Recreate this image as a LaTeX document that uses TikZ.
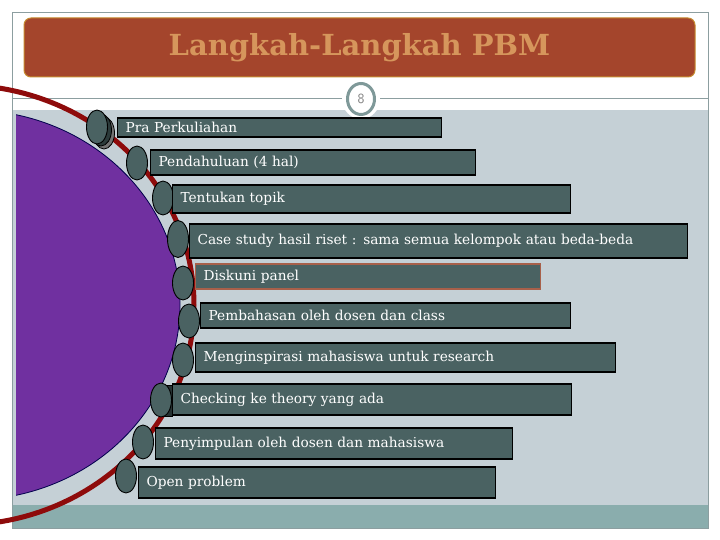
\documentclass[tikz,border=0pt]{standalone}
\usepackage{fontspec}
\setmainfont{DejaVu Serif}
\usetikzlibrary{shapes.geometric}

\definecolor{brick}{HTML}{A4452C}
\definecolor{titletext}{HTML}{D6965C}
\definecolor{titleedge}{HTML}{C58A2E}
\definecolor{panelgrey}{HTML}{C5D0D6}
\definecolor{stripteal}{HTML}{8AADAD}
\definecolor{framegrey}{HTML}{8C9EA0}
\definecolor{slate}{HTML}{4A6262}
\definecolor{plum}{HTML}{7030A0}
\definecolor{maroon}{HTML}{8E0B0B}
\definecolor{ringgrey}{HTML}{7F9999}
\definecolor{diskedge}{HTML}{A8604A}

\begin{document}
\begin{tikzpicture}[x=1pt,y=-1pt,
	titlebox/.style={rectangle, rounded corners=7pt, fill=brick, draw=titleedge, line width=1pt,
		text=titletext, font=\fontsize{29}{32}\selectfont\bfseries},
	barbox/.style={draw=black, line width=1.1pt, fill=slate, text=white, anchor=west,
		align=left, inner xsep=8pt, inner ysep=0pt, font=\fontsize{13.7}{16}\selectfont},
	bead/.style={ellipse, draw=black, line width=0.9pt, fill=slate, inner sep=0pt,
		minimum width=21pt, minimum height=34pt}]
		\useasboundingbox (0,0) rectangle (720,540);
		\fill[white] (0,0) rectangle (720,540);

		% slide frame
		\fill[panelgrey] (12,110) rectangle (708,505);
		\fill[stripteal] (12,505) rectangle (708,528);
		\draw[framegrey, line width=0.8pt] (12,12) rectangle (708,528);
		\draw[framegrey, line width=0.8pt] (12,98) -- (708,98);

		\node[titlebox, minimum width=671pt, minimum height=59pt] (title) at (359.5,47.5) {Langkah-Langkah PBM};

		\fill[white] (361,99) ellipse [x radius=19, y radius=20];
		\node[ellipse, draw=ringgrey, line width=3pt, fill=white, minimum width=27pt, minimum height=31pt,
			inner sep=0pt, text=gray, font=\sffamily\fontsize{14}{14}\selectfont] (pagenum) at (361,99) {8};

		% purple disc and red rim
		\begin{scope}
			\clip (16,0) rectangle (400,540);
			\filldraw[fill=plum, draw=black!70!blue, line width=0.8pt] (-30,305) ellipse [x radius=210, y radius=195];
		\end{scope}
		\draw[maroon, line width=5pt] (-40,305) ellipse [x radius=234, y radius=220];

		% shadows behind two beads
		\filldraw[fill=black!55, draw=black, line width=0.8pt] (104,133) ellipse [x radius=10.5, y radius=16];
		\filldraw[fill=slate!60!black, draw=black, line width=0.8pt] (101,130) ellipse [x radius=10.5, y radius=16];
		\filldraw[fill=slate!50!black, draw=black, line width=0.8pt] (160,385) rectangle (172,416);

		\node[bead] (b1) at (97,127) {};
		\node[bead] (b2) at (137,163) {};
		\node[bead] (b3) at (163,198) {};
		\node[bead, minimum height=37pt] (b4) at (178,239) {};
		\node[bead] (b5) at (183,283) {};
		\node[bead] (b6) at (189,321) {};
		\node[bead] (b7) at (183,360) {};
		\node[bead] (b8) at (161,400) {};
		\node[bead] (b9) at (143,442) {};
		\node[bead] (b10) at (126,476) {};

		% steps
		\node[barbox, text width=308pt, minimum height=19pt] (pra) at (117,127.5) {Pra Perkuliahan};
		\node[barbox, text width=309pt, minimum height=25pt] (pend) at (150,162.5) {Pendahuluan (4 hal)};
		\node[barbox, text width=382pt, minimum height=28pt] (topik) at (172,199) {Tentukan topik};
		\node[barbox, text width=482pt, minimum height=34pt] (case) at (189,241) {Case study hasil riset : sama semua kelompok atau beda-beda};
		\node[barbox, draw=diskedge, text width=329pt, minimum height=25pt] (disk) at (195,276.5) {Diskuni panel};
		\node[barbox, text width=354pt, minimum height=25pt] (bahas) at (200,315.5) {Pembahasan oleh dosen dan class};
		\node[barbox, text width=404pt, minimum height=29pt] (inspir) at (195,357.5) {Menginspirasi mahasiswa untuk research};
		\node[barbox, text width=383pt, minimum height=31pt] (check) at (172,399.5) {Checking ke theory yang ada};
		\node[barbox, text width=341pt, minimum height=31pt] (simpul) at (155,443.5) {Penyimpulan oleh dosen dan mahasiswa};
		\node[barbox, text width=341pt, minimum height=31pt] (open) at (138,482.5) {Open problem};

	\end{tikzpicture}
\end{document}
